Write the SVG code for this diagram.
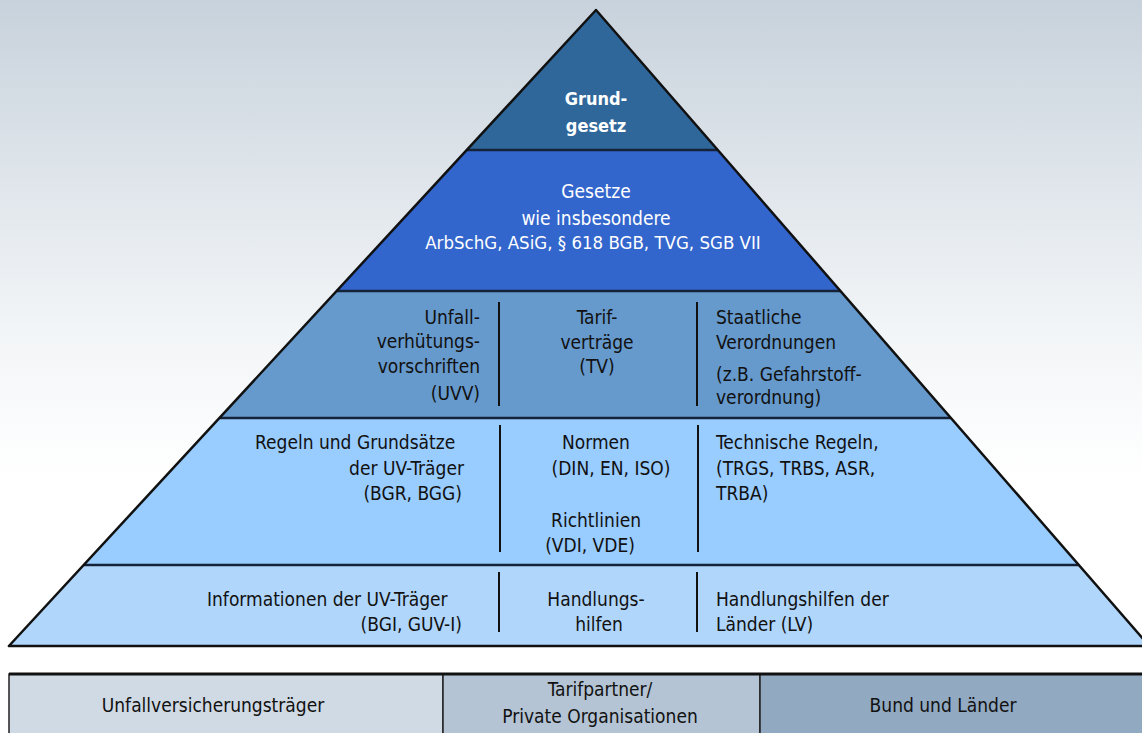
<svg xmlns="http://www.w3.org/2000/svg" width="1142" height="733" viewBox="0 0 1142 733">
<defs>
<linearGradient id="bg" x1="0" y1="0" x2="0" y2="1">
<stop offset="0" stop-color="#c8d2dc"/>
<stop offset="0.45" stop-color="#f2f5f7"/>
<stop offset="0.65" stop-color="#ffffff"/>
</linearGradient>
<style>
.t{font-family:"Liberation Sans Narrow","DejaVu Sans Condensed","Liberation Sans",sans-serif;font-size:19px;fill:#111;}
.w{fill:#ffffff;}
.b{font-weight:bold;font-size:18px;}
.m{text-anchor:middle;}
.e{text-anchor:end;}
.band{stroke:none;}
.sep{stroke:#15233a;stroke-width:2.5;fill:none;}
.div{stroke:#111;stroke-width:2;}
.cell{stroke:#222;stroke-width:1.5;}
</style>
</defs>
<rect x="0" y="0" width="1142" height="733" fill="url(#bg)"/>

<g id="grundgesetz">
<polygon class="band" points="596,10 466.8,150 717.8,150" fill="#30679a"/>
<text class="t w b m" x="596" y="105">Grund-</text>
<text class="t w b m" x="596" y="132">gesetz</text>
</g>

<g id="gesetze">
<polygon class="band" points="466.8,150 717.8,150 840.5,291 336.6,291" fill="#3366cc"/>
<text class="t w m" x="596" y="198">Gesetze</text>
<text class="t w m" x="596" y="225">wie insbesondere</text>
<text class="t w m" x="593" y="249" style="font-size:18.5px">ArbSchG, ASiG, § 618 BGB, TVG, SGB VII</text>
</g>

<g id="verordnungen">
<polygon class="band" points="336.6,291 840.5,291 951,418 219.4,418" fill="#6699cc"/>
<text class="t e" x="480" y="324">Unfall-</text>
<text class="t e" x="480" y="348">verhütungs-</text>
<text class="t e" x="480" y="373">vorschriften</text>
<text class="t e" x="480" y="400">(UVV)</text>
<text class="t m" x="597" y="324">Tarif-</text>
<text class="t m" x="597" y="349">verträge</text>
<text class="t m" x="597" y="373">(TV)</text>
<text class="t" x="716" y="324">Staatliche</text>
<text class="t" x="716" y="349">Verordnungen</text>
<text class="t" x="716" y="381">(z.B. Gefahrstoff-</text>
<text class="t" x="716" y="404">verordnung)</text>
</g>

<g id="regeln">
<polygon class="band" points="219.4,418 951,418 1078.9,565 83.8,565" fill="#99ccff"/>
<text class="t" x="255" y="449">Regeln und Grundsätze</text>
<text class="t e" x="464" y="475">der UV-Träger</text>
<text class="t e" x="462" y="500">(BGR, BGG)</text>
<text class="t m" x="596" y="449">Normen</text>
<text class="t m" x="611" y="475">(DIN, EN, ISO)</text>
<text class="t m" x="596" y="527">Richtlinien</text>
<text class="t m" x="590" y="552">(VDI, VDE)</text>
<text class="t" x="716" y="449">Technische Regeln,</text>
<text class="t" x="716" y="475">(TRGS, TRBS, ASR,</text>
<text class="t" x="716" y="500">TRBA)</text>
</g>

<g id="informationen">
<polygon class="band" points="83.8,565 1078.9,565 1149.3,646 8.9,646" fill="#b0d6fb"/>
<text class="t" x="207" y="606">Informationen der UV-Träger</text>
<text class="t e" x="462" y="631">(BGI, GUV-I)</text>
<text class="t m" x="596" y="606">Handlungs-</text>
<text class="t m" x="599" y="631">hilfen</text>
<text class="t" x="716" y="606">Handlungshilfen der</text>
<text class="t" x="716" y="631">Länder (LV)</text>
</g>

<g id="connectors">
<line class="sep" x1="466.8" y1="150" x2="717.8" y2="150"/>
<line class="sep" x1="336.6" y1="291" x2="840.5" y2="291"/>
<line class="sep" x1="219.4" y1="418" x2="951" y2="418"/>
<line class="sep" x1="83.8" y1="565" x2="1078.9" y2="565"/>
<polygon points="596,10 8.9,646 1149.3,646" fill="none" stroke="#111" stroke-width="2.5" stroke-linejoin="round"/>
<line class="div" x1="499" y1="302" x2="499" y2="406"/>
<line class="div" x1="697" y1="302" x2="697" y2="406"/>
<line class="div" x1="500" y1="425" x2="500" y2="552"/>
<line class="div" x1="698" y1="425" x2="698" y2="552"/>
<line class="div" x1="499" y1="572" x2="499" y2="632"/>
<line class="div" x1="697" y1="572" x2="697" y2="632"/>
</g>

<g id="unfallversicherungstraeger">
<rect class="cell" x="9" y="674" width="434" height="70" fill="#d0dae4"/>
<text class="t m" x="213" y="712" fill="#222">Unfallversicherungsträger</text>
</g>
<g id="tarifpartner">
<rect class="cell" x="443" y="674" width="317" height="70" fill="#b4c4d4"/>
<text class="t m" x="600" y="696">Tarifpartner/</text>
<text class="t m" x="600" y="723">Private Organisationen</text>
</g>
<g id="bund-laender">
<rect class="cell" x="760" y="674" width="390" height="70" fill="#91a9c1"/>
<text class="t m" x="943" y="712">Bund und Länder</text>
</g>
<line x1="9" y1="674" x2="1142" y2="674" stroke="#111" stroke-width="3"/>
</svg>
